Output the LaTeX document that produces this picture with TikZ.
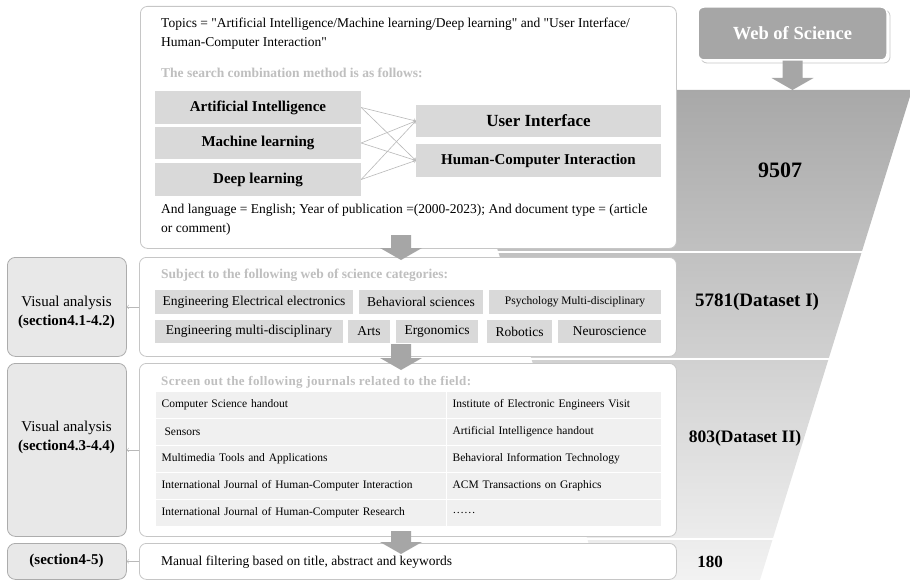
\documentclass[tikz,border=0pt]{standalone}
\usepackage{fontspec}
\setmainfont{Liberation Serif}[Ligatures=TeXOff]
\usetikzlibrary{positioning, calc}

% block arrow pointing down: #1 = top of shaft, #2 = tip
\newcommand{\flowdown}[2]{%
  \fill[gray!70] ($(#1)+(-10,0)$) -- ($(#1)+(10,0)$) -- ($(#2)+(10,-12)$) -- ($(#2)+(21,-12)$)
    -- (#2) -- ($(#2)+(-21,-12)$) -- ($(#2)+(-10,-12)$) -- cycle;}

\begin{document}
\begin{tikzpicture}[x=1pt, y=-1pt,
  mainbox/.style={draw=gray!45, fill=white, rounded corners=7pt, line width=0.8pt, anchor=north west, inner sep=0pt},
  sidebox/.style={draw=gray!65, fill=gray!18, rounded corners=8pt, line width=0.8pt, anchor=north west, inner sep=0pt, minimum width=119pt},
  sidetext/.style={align=center, inner sep=0pt, font=\fontsize{15}{19}\selectfont},
  termbox/.style={fill=gray!30, inner sep=0pt, font=\bfseries\fontsize{15}{18}\selectfont},
  catbox/.style={fill=gray!30, inner sep=0pt, font=\fontsize{13.5}{16}\selectfont},
  jcell/.style={anchor=north west, fill=gray!12, draw=white, line width=1.2pt, minimum height=27pt, inner xsep=6pt, inner ysep=0pt, align=left, font=\fontsize{11.5}{14}\selectfont},
  txt/.style={anchor=west, align=left, inner sep=0pt, font=\fontsize{13.5}{19}\selectfont},
  heading/.style={anchor=west, inner sep=0pt, text=gray!50, font=\bfseries\fontsize{13.5}{16}\selectfont},
  count/.style={inner sep=0pt, font=\bfseries\fontsize{18}{20}\selectfont},
  thin arrow/.style={->, draw=gray!55, line width=0.6pt}]
\useasboundingbox (0,0) rectangle (910,580);
\clip (0,0) rectangle (910,580);

% funnel
\shade[top color=gray!68, bottom color=gray!10] (448,90) -- (912,90) -- (760,580) -- (600,580) -- cycle;
\foreach \y in {252,359,539}
  \draw[white, line width=1.5pt] (400,\y) -- (910,\y);

% search steps
\node[mainbox, minimum width=536pt, minimum height=242pt] (b1) at (140,6) {};
\node[mainbox, minimum width=537pt, minimum height=99pt] (b2) at (139,257) {};
\node[mainbox, minimum width=537pt, minimum height=173pt] (b3) at (139,363) {};
\node[mainbox, minimum width=537pt, minimum height=36pt] (b4) at (139,543) {};

% sections
\node[sidebox, minimum height=99pt] (s1) at (7,257) {};
\node[sidebox, minimum height=173pt] (s2) at (7,363) {};
\node[sidebox, minimum height=36pt] (s3) at (7,543) {};
\node[sidetext] (s1t) at (66.5,312) {Visual analysis\\\textbf{(section4.1-4.2)}};
\node[sidetext] (s2t) at (66.5,437) {Visual analysis\\\textbf{(section4.3-4.4)}};
\node[sidetext] (s3t) at (66.5,561) {\textbf{(section4-5)}};
\draw[thin arrow] (b2.west) -- (s1.east);
\draw[thin arrow] (b3.west) -- (s2.east);
\draw[thin arrow] (b4.west) -- (s3.east);

% database
\draw[gray!45, rounded corners=6pt, line width=0.8pt] (701,10) rectangle (890,63);
\node[fill=gray!70, draw=white, line width=1.5pt, rounded corners=6pt, minimum width=189pt, minimum height=53pt,
  text=white, font=\bfseries\fontsize{18.5}{22}\selectfont] (wos) at (792.5,33.5) {Web of Science};
\coordinate (fun) at (792.5,90);
\flowdown{wos.south}{fun}

% step 1: topics
\node[txt] (topics) at (161,34) {Topics = "Artificial Intelligence/Machine learning/Deep learning" and "User Interface/\\Human-Computer Interaction"};
\node[heading] (how) at (161,73) {The search combination method is as follows:};
\node[termbox, minimum width=206pt, minimum height=33pt] (ai) at (258,107.5) {Artificial Intelligence};
\node[termbox, minimum width=206pt, minimum height=32pt] (ml) at (258,143) {Machine learning};
\node[termbox, minimum width=206pt, minimum height=33pt] (dl) at (258,179.5) {Deep learning};
\node[termbox, minimum width=245pt, minimum height=32pt, font=\bfseries\fontsize{17}{20}\selectfont] (ui) at (538.5,121) {User Interface};
\node[termbox, minimum width=245pt, minimum height=33pt] (hci) at (538.5,160.5) {Human-Computer Interaction};
\foreach \s in {ai,ml,dl}
  \foreach \t in {ui,hci}
    \draw[thin arrow] (\s.east) -- (\t.west);
\node[txt] (lang) at (161,220) {And language = English; Year of publication =(2000-2023); And document type = (article\\or comment)};

% step 2: categories
\node[heading] (cats) at (161,275) {Subject to the following web of science categories:};
\node[catbox, minimum width=198pt, minimum height=24pt] (c1) at (254,302) {Engineering Electrical electronics};
\node[catbox, minimum width=124pt, minimum height=24pt] (c2) at (421,302) {Behavioral sciences};
\node[catbox, minimum width=172pt, minimum height=24pt, font=\fontsize{11.5}{14}\selectfont] (c3) at (575,302) {Psychology Multi-disciplinary};
\node[catbox, minimum width=188pt, minimum height=23pt] (c4) at (249,331.5) {Engineering multi-disciplinary};
\node[catbox, minimum width=42pt, minimum height=23pt] (c5) at (369,331.5) {Arts};
\node[catbox, minimum width=82pt, minimum height=23pt] (c6) at (437,331.5) {Ergonomics};
\node[catbox, minimum width=65pt, minimum height=23pt] (c7) at (519.5,331.5) {Robotics};
\node[catbox, minimum width=103pt, minimum height=23pt] (c8) at (609.5,331.5) {Neuroscience};

% step 3: journals
\node[heading, font=\bfseries\fontsize{13}{15}\selectfont\addfontfeature{LetterSpace=3}] (jour) at (161,382) {Screen out the following journals related to the field:};
\foreach \i/\jl/\jr in {1/Computer Science handout/Institute of Electronic Engineers Visit,
    2/{\hspace*{3pt}Sensors}/Artificial Intelligence handout,
    3/Multimedia Tools and Applications/Behavioral Information Technology,
    4/International Journal of Human-Computer Interaction/ACM Transactions on Graphics,
    5/International Journal of Human-Computer Research/……} {
  \node[jcell, text width=279pt] (jl\i) at (155,{391+27*(\i-1)}) {\jl};
  \node[jcell, text width=203pt] (jr\i) at (446,{391+27*(\i-1)}) {\jr};
}

% step 4
\node[txt] (manual) at (161,562) {Manual filtering based on title, abstract and keywords};

% arrows between steps
\coordinate (a1) at (401,235); \coordinate (a1e) at (401,260);
\coordinate (a2) at (401,344); \coordinate (a2e) at (401,370);
\coordinate (a3) at (401,531); \coordinate (a3e) at (401,554);
\flowdown{a1}{a1e}
\flowdown{a2}{a2e}
\flowdown{a3}{a3e}

% counts
\node[count, font=\bfseries\fontsize{22}{24}\selectfont] (n1) at (780,170) {9507};
\node[count, font=\bfseries\fontsize{19}{22}\selectfont] (n2) at (757,302) {5781(Dataset I)};
\node[count, font=\bfseries\fontsize{17.5}{20}\selectfont] (n3) at (745,438) {803(Dataset II)};
\node[count, font=\bfseries\fontsize{17}{20}\selectfont] (n4) at (710,562) {180};
\end{tikzpicture}
\end{document}
